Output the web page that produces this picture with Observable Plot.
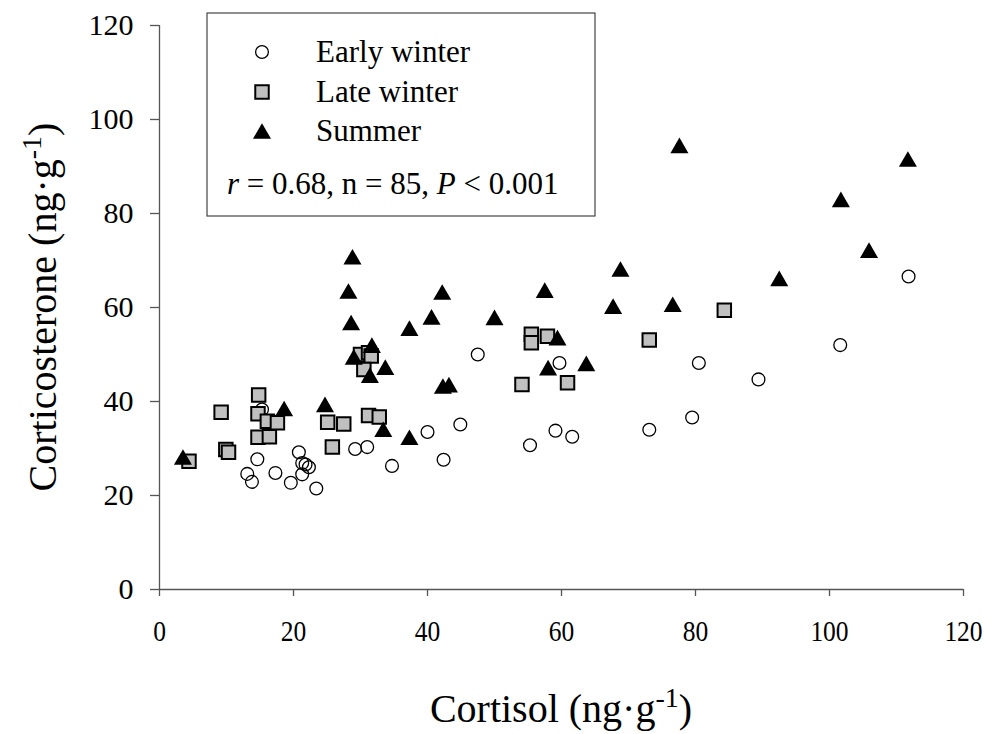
<!DOCTYPE html>
<html>
<head>
<meta charset="utf-8">
<script src="https://cdn.jsdelivr.net/npm/d3@7"></script>
<script src="https://cdn.jsdelivr.net/npm/@observablehq/plot@0.6"></script>
<style>
  html, body { margin: 0; padding: 0; background: #fff; }
  #chart { width: 992px; height: 734px; }
</style>
</head>
<body>
<div id="chart"></div>
<script>
// ---- Data ----
const seriesNames = ["Early winter", "Late winter", "Summer"];

const earlyCortisol = [13.1, 13.8, 14.6, 15.3, 17.3, 19.6, 20.8, 21.3, 21.8, 22.3, 21.3, 23.4, 29.2, 31.0, 34.7,
  40.0, 42.4, 44.9, 47.5, 55.3, 59.1, 59.7, 61.6, 73.1, 79.5, 80.5, 89.4, 101.6, 111.8];
const earlyCorticosterone = [24.6, 22.9, 27.7, 38.3, 24.8, 22.7, 29.2, 26.9, 26.6, 26.0, 24.5, 21.5, 29.9, 30.3, 26.3,
  33.5, 27.6, 35.1, 50.0, 30.7, 33.8, 48.2, 32.5, 34.0, 36.6, 48.2, 44.7, 52.0, 66.6];

const lateCortisol = [4.4, 9.2, 9.9, 10.3, 14.8, 14.7, 16.1, 17.6, 14.7, 16.4, 25.1, 27.5, 25.8, 31.2, 32.8,
  30.0, 31.2, 31.6, 30.5, 55.5, 55.5, 57.9, 54.1, 60.9, 84.3, 73.1];
const lateCorticosterone = [27.3, 37.7, 29.8, 29.2, 41.4, 37.4, 35.8, 35.5, 32.4, 32.5, 35.6, 35.2, 30.3, 37.0, 36.7,
  50.0, 50.4, 49.7, 46.8, 54.3, 52.5, 53.9, 43.6, 44.0, 59.4, 53.1];

const summerCortisol = [3.5, 18.6, 24.7, 28.8, 28.2, 28.6, 42.2, 40.6, 37.3, 31.7, 29.0, 33.7, 31.4, 42.3, 43.2,
  33.4, 37.3, 50.0, 57.5, 59.4, 58.0, 63.7, 67.7, 68.8, 77.6, 111.7, 101.7, 105.9, 92.5, 76.6];
const summerCorticosterone = [28.2, 38.5, 39.4, 70.8, 63.5, 56.8, 63.3, 58.0, 55.6, 52.0, 49.5, 47.3, 45.6, 43.3, 43.6,
  34.1, 32.4, 57.9, 63.7, 53.6, 47.2, 48.1, 60.3, 68.2, 94.5, 91.6, 83.0, 72.2, 66.2, 60.7];

const xTicks = [0, 20, 40, 60, 80, 100, 120];
const yTicks = [0, 20, 40, 60, 80, 100, 120];
const xLabelMain = "Cortisol (ng\u00B7g";
const yLabelMain = "Corticosterone (ng\u00B7g";
const unitExponent = "-1";
const statR = "0.68", statN = "85", statP = "0.001";

// ---- Build tables ----
const toRows = (xs, ys, s) => xs.map((x, i) => ({x, y: ys[i], season: s}));
const early = toRows(earlyCortisol, earlyCorticosterone, seriesNames[0]);
const late = toRows(lateCortisol, lateCorticosterone, seriesNames[1]);
const summer = toRows(summerCortisol, summerCorticosterone, seriesNames[2]);

const W = 992, H = 734;
const font = "'Liberation Serif', 'Times New Roman', serif";

const plot = Plot.plot({
  width: W,
  height: H,
  marginLeft: 159,
  marginRight: 29,
  marginTop: 25,
  marginBottom: 145,
  style: {fontFamily: font, background: "#fff", color: "#000", overflow: "visible"},
  x: {domain: [0, 120], label: null},
  y: {domain: [0, 120], label: null},
  marks: [
    Plot.ruleX([0], {stroke: "#555", strokeWidth: 1.3}),
    Plot.ruleY([0], {stroke: "#555", strokeWidth: 1.3}),
    Plot.axisX({ticks: xTicks, tickSize: 7, tickPadding: 23, stroke: "#555", strokeWidth: 1.3, fill: "#000",
      fontSize: 30, fontFamily: font, label: null, tickFormat: d => String(d)}),
    Plot.axisY({ticks: yTicks, tickSize: 9, tickPadding: 17, stroke: "#555", strokeWidth: 1.3, fill: "#000",
      fontSize: 30, fontFamily: font, label: null, tickFormat: d => String(d)}),
    Plot.dot(early, {x: "x", y: "y", symbol: "circle", r: 6.4, fill: "none", stroke: "#000", strokeWidth: 1.3}),
    Plot.dot(late, {x: "x", y: "y", symbol: "square", r: 7.6, fill: "#c0c0c0", stroke: "#000", strokeWidth: 2}),
    Plot.dot(summer, {x: "x", y: "y", symbol: "triangle", r: 6.7, fill: "#000", stroke: "none", dy: 2.6})
  ]
});

document.getElementById("chart").appendChild(plot);
const svg = d3.select(plot);

// Tick label font size (and a slight horizontal condensing of x labels, as in the reference)
plot.querySelectorAll('g[aria-label$="tick label"]').forEach(g => {
  g.setAttribute("font-size", "30");
  g.style.fontSize = "30px";
  g.setAttribute("font-family", font);
});
plot.querySelectorAll('g[aria-label$="tick label"] text').forEach(t => {
  t.style.fontSize = "30px";
});
plot.querySelectorAll('g[aria-label="x-axis tick label"] text').forEach(t => {
  const tr = t.getAttribute("transform");
  if (tr && /translate/.test(tr)) t.setAttribute("transform", tr + " scale(0.85,1)");
});

// ---- Axis titles with superscript ----
const xMid = (159 + (W - 29)) / 2;
const yMid = (25 + (H - 145)) / 2;

function titleText(g, main) {
  g.append("tspan").text(main);
  g.append("tspan").attr("font-size", 28).attr("dy", -15).text(unitExponent);
  g.append("tspan").attr("dy", 15).text(")");
}

svg.append("text")
  .attr("x", xMid).attr("y", 722)
  .attr("text-anchor", "middle")
  .attr("font-family", font).attr("font-size", 40).attr("fill", "#000")
  .call(g => titleText(g, xLabelMain));

svg.append("text")
  .attr("transform", `translate(56,${yMid}) rotate(-90)`)
  .attr("text-anchor", "middle")
  .attr("font-family", font).attr("font-size", 40).attr("fill", "#000")
  .call(g => titleText(g, yLabelMain));

// ---- Legend box ----
const lg = svg.append("g").attr("font-family", font).attr("font-size", 31)
  .attr("fill", "#000").attr("text-anchor", "start");
lg.append("rect").attr("x", 207).attr("y", 13).attr("width", 388).attr("height", 203)
  .attr("fill", "#fff").attr("stroke", "#444").attr("stroke-width", 1.2);

const legendItems = [
  {name: seriesNames[0], type: d3.symbolCircle, size: Math.PI * 6.4 * 6.4, fill: "none", stroke: "#000", sw: 1.3, cy: 52, dy: 0},
  {name: seriesNames[1], type: d3.symbolSquare, size: Math.PI * 7.6 * 7.6, fill: "#c0c0c0", stroke: "#000", sw: 2, cy: 92, dy: 0},
  {name: seriesNames[2], type: d3.symbolTriangle, size: Math.PI * 6.7 * 6.7, fill: "#000", stroke: "none", sw: 0, cy: 131, dy: 2.6}
];
legendItems.forEach(it => {
  lg.append("path")
    .attr("d", d3.symbol(it.type, it.size)())
    .attr("transform", `translate(262,${it.cy + it.dy})`)
    .attr("fill", it.fill).attr("stroke", it.stroke).attr("stroke-width", it.sw);
  lg.append("text").attr("x", 316).attr("y", it.cy + 10).attr("text-anchor", "start").text(it.name);
});

const st = lg.append("text").attr("x", 227).attr("y", 194).attr("text-anchor", "start");
st.append("tspan").attr("font-style", "italic").text("r");
st.append("tspan").text(` = ${statR}, n = ${statN}, `);
st.append("tspan").attr("font-style", "italic").text("P");
st.append("tspan").text(` < ${statP}`);
</script>
</body>
</html>
